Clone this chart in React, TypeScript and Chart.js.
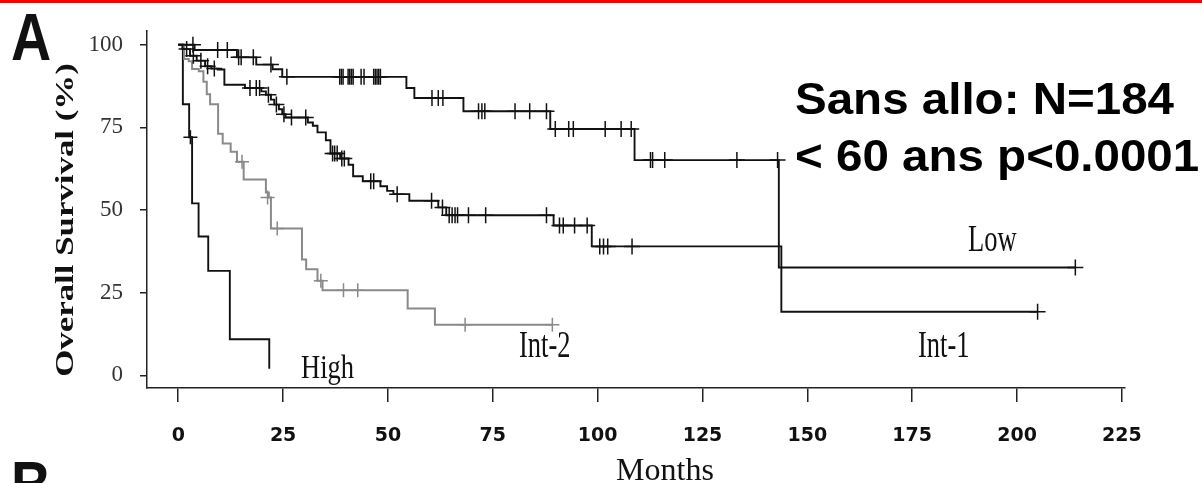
import React, { useEffect, useRef } from "react";
import { Chart, registerables } from "chart.js";

Chart.register(...registerables);

// ---- axis ticks ----
const X_TICKS = [0, 25, 50, 75, 100, 125, 150, 175, 200, 225];
const Y_TICKS = [0, 25, 50, 75, 100];

// ---- Kaplan-Meier steps: [month, survival % after the step] ----
const LOW_STEPS: [number, number][] = [
  [0, 100], [3.9, 98.4], [14.0, 96.2], [18.6, 94.0], [22.5, 92.6], [24.8, 90.3],
  [54.4, 86.9], [56.3, 83.9], [68.0, 79.9], [88.7, 74.5], [108.8, 65.1],
  [143.2, 32.6], [213.9, 32.6],
];
const LOW_CENSORED: [number, number][] = [
  [3.5, 100], [9.4, 98.4], [11.7, 98.4], [14.4, 96.2], [15.0, 96.2], [17.9, 96.2],
  [22.1, 94.0], [25.9, 90.3], [38.5, 90.3], [38.9, 90.3], [39.3, 90.3], [40.5, 90.3],
  [40.9, 90.3], [41.3, 90.3], [41.7, 90.3], [43.6, 90.3], [44.3, 90.3], [46.6, 90.3],
  [47.0, 90.3], [47.4, 90.3], [47.8, 90.3], [48.2, 90.3], [60.5, 83.9], [62.0, 83.9],
  [63.1, 83.9], [71.6, 79.9], [72.4, 79.9], [73.1, 79.9], [80.3, 79.9], [83.8, 79.9],
  [87.8, 79.9], [89.9, 74.5], [93.1, 74.5], [94.2, 74.5], [101.8, 74.5], [105.6, 74.5],
  [108.0, 74.5], [112.6, 65.1], [113.1, 65.1], [116.0, 65.1], [133.2, 65.1],
  [142.9, 65.1], [213.9, 32.6],
];

const INT1_STEPS: [number, number][] = [
  [0, 100], [1.0, 98.7], [2.8, 96.7], [4.4, 95.2], [6.4, 93.5], [7.9, 92.8], [9.4, 92.5],
  [11.0, 87.9], [15.9, 86.9], [19.8, 85.9], [20.9, 84.9], [22.1, 83.4], [22.9, 81.9],
  [24.0, 80.5], [24.8, 79.0], [25.6, 78.0], [30.9, 76.5], [32.1, 75.5], [33.2, 73.5],
  [35.2, 71.1], [36.3, 67.1], [38.6, 65.6], [40.6, 63.7], [41.7, 60.2], [44.0, 58.7],
  [48.2, 57.2], [49.8, 55.8], [51.3, 54.8], [55.1, 52.8], [62.0, 50.8], [63.9, 48.4],
  [89.5, 45.3], [98.6, 39.0], [143.8, 19.2], [204.9, 19.2],
];
const INT1_CENSORED: [number, number][] = [
  [2.0, 98.7], [3.6, 96.7], [5.4, 95.2], [7.0, 93.5], [8.6, 92.8], [17.1, 86.9],
  [18.6, 86.9], [19.4, 86.9], [21.5, 84.9], [23.4, 81.9], [25.2, 79.0], [27.0, 78.0],
  [30.4, 78.0], [36.8, 67.1], [37.3, 67.1], [37.9, 67.1], [39.0, 65.6], [39.6, 65.6],
  [45.9, 58.7], [46.6, 58.7], [52.2, 54.8], [60.4, 52.8], [63.0, 50.8], [64.6, 48.4],
  [65.3, 48.4], [66.0, 48.4], [66.6, 48.4], [69.2, 48.4], [73.3, 48.4], [87.8, 48.4],
  [90.9, 45.3], [91.8, 45.3], [94.5, 45.3], [97.5, 45.3], [100.5, 39.0], [101.4, 39.0],
  [102.4, 39.0], [108.2, 39.0], [204.9, 19.2],
];

const INT2_STEPS: [number, number][] = [
  [0, 100], [1.4, 95.7], [2.5, 95.0], [3.3, 92.7], [4.9, 92.0], [6.0, 88.8], [6.8, 85.0],
  [7.6, 82.0], [9.5, 73.1], [10.6, 70.1], [12.5, 67.6], [14.0, 64.6], [15.6, 59.2],
  [20.9, 55.3], [21.6, 53.8], [22.1, 44.4], [29.5, 35.0], [30.5, 32.1], [33.2, 28.6],
  [34.4, 25.7], [54.7, 20.2], [61.2, 15.3], [89.2, 15.3],
];
const INT2_CENSORED: [number, number][] = [
  [15.2, 64.6], [21.3, 53.8], [23.6, 44.4], [34.0, 28.6], [39.4, 25.7], [42.8, 25.7],
  [68.4, 15.3], [89.2, 15.3],
];

const HIGH_STEPS: [number, number][] = [
  [0, 100], [1.1, 82], [2.6, 72], [3.3, 52], [4.85, 42], [7.15, 31.6], [12.3, 10.9],
  [21.7, 2],
];
const HIGH_CENSORED: [number, number][] = [[2.9, 72]];

const SERIES = [
  { name: "Low", steps: LOW_STEPS, censored: LOW_CENSORED, color: "#111111", width: 1.9, mark: 8 },
  { name: "Int-1", steps: INT1_STEPS, censored: INT1_CENSORED, color: "#111111", width: 1.9, mark: 8 },
  { name: "Int-2", steps: INT2_STEPS, censored: INT2_CENSORED, color: "#8a8a8a", width: 2, mark: 7 },
  { name: "High", steps: HIGH_STEPS, censored: HIGH_CENSORED, color: "#111111", width: 1.9, mark: 7 },
];

const W = 1202;
const H = 483;

function drawText(
  ctx: CanvasRenderingContext2D,
  text: string,
  x: number,
  y: number,
  font: string,
  o: { sx?: number; sy?: number; rot?: number; align?: CanvasTextAlign; color?: string } = {}
) {
  ctx.save();
  ctx.translate(x, y);
  if (o.rot) ctx.rotate(o.rot);
  ctx.scale(o.sx ?? 1, o.sy ?? 1);
  ctx.font = font;
  ctx.fillStyle = o.color ?? "#111";
  ctx.textAlign = o.align ?? "left";
  ctx.textBaseline = "alphabetic";
  ctx.fillText(text, 0, 0);
  ctx.restore();
}

const decorPlugin = {
  id: "decor",
  beforeDraw(chart: any) {
    const ctx = chart.ctx as CanvasRenderingContext2D;
    ctx.save();
    ctx.fillStyle = "#ffffff";
    ctx.fillRect(0, 0, W, H);
    ctx.fillStyle = "#ff0000";
    ctx.fillRect(0, 0, W, 3);
    ctx.restore();
  },
  afterDraw(chart: any) {
    const ctx = chart.ctx as CanvasRenderingContext2D;
    const sansB = (s: number) => `bold ${s}px "Liberation Sans", Arial, sans-serif`;
    const serif = (s: number, b = false) =>
      `${b ? "bold " : ""}${s}px "Liberation Serif", "Times New Roman", serif`;
    // panel letters
    drawText(ctx, "A", 11, 60, sansB(67), { sx: 0.83 });
    drawText(ctx, "B", 11, 508, sansB(67), { sx: 0.83 });
    // y axis title
    drawText(ctx, "Overall Survival (%)", 73, 220, serif(26, true), {
      rot: -Math.PI / 2,
      sx: 1.34,
      align: "center",
    });
    // x axis title
    drawText(ctx, "Months", 665, 480, serif(32), { align: "center" });
    // curve labels
    drawText(ctx, "Low", 968, 251, serif(26.5), { sy: 1.4 });
    drawText(ctx, "Int-1", 918, 357, serif(26.5), { sy: 1.4 });
    drawText(ctx, "Int-2", 519, 357, serif(26.5), { sy: 1.4 });
    drawText(ctx, "High", 301, 377.5, serif(26.5), { sy: 1.3 });
    // annotation
    drawText(ctx, "Sans allo: N=184", 795, 113.5, sansB(44), { sx: 1.08, color: "#000" });
    drawText(ctx, "< 60 ans p<0.0001", 795, 171, sansB(44), { sx: 1.08, color: "#000" });
  },
};

export default function App() {
  const ref = useRef<HTMLCanvasElement>(null);

  useEffect(() => {
    document.body.style.margin = "0";
    const canvas = ref.current;
    if (!canvas) return;

    const datasets: any[] = [];
    SERIES.forEach((s) => {
      datasets.push({
        label: s.name,
        data: s.steps.map(([x, y]) => ({ x, y })),
        stepped: true,
        borderColor: s.color,
        borderWidth: s.width,
        pointRadius: 0,
        fill: false,
      });
      datasets.push({
        label: s.name + " censored",
        data: s.censored.map(([x, y]) => ({ x, y })),
        showLine: false,
        pointStyle: "cross",
        pointRadius: s.mark,
        pointBorderWidth: 1.5,
        pointBorderColor: s.color,
        borderColor: s.color,
      });
    });

    const chart = new Chart(canvas, {
      type: "line",
      data: { datasets },
      plugins: [decorPlugin],
      options: {
        animation: false,
        responsive: false,
        devicePixelRatio: 1,
        layout: { padding: { top: 23, right: 77, left: 0, bottom: 0 } },
        plugins: { legend: { display: false }, tooltip: { enabled: false } },
        scales: {
          x: {
            type: "linear",
            min: -7.45,
            max: 225.74,
            afterBuildTicks: (scale: any) => {
              scale.ticks = X_TICKS.map((v) => ({ value: v }));
            },
            afterFit: (scale: any) => {
              scale.height = 95;
            },
            ticks: {
              autoSkip: false,
              maxRotation: 0,
              padding: 23,
              color: "#111",
              font: { family: '"DejaVu Sans", sans-serif', size: 19, weight: "bold" },
              callback: (v: any) => String(v),
            },
            grid: {
              drawOnChartArea: false,
              drawTicks: true,
              tickLength: 14,
              color: "#222",
              lineWidth: 1.5,
            },
            border: { display: true, color: "#222", width: 1.5 },
          },
          y: {
            type: "linear",
            min: -3.85,
            max: 104.23,
            afterBuildTicks: (scale: any) => {
              scale.ticks = Y_TICKS.map((v) => ({ value: v }));
            },
            afterFit: (scale: any) => {
              scale.width = 147;
            },
            ticks: {
              autoSkip: false,
              padding: 17,
              color: "#333",
              font: { family: '"Liberation Serif", serif', size: 23 },
              callback: (v: any) => String(v),
            },
            grid: {
              drawOnChartArea: false,
              drawTicks: true,
              tickLength: 7,
              color: "#222",
              lineWidth: 1.5,
            },
            border: { display: true, color: "#222", width: 1.5 },
          },
        },
      } as any,
    });

    return () => chart.destroy();
  }, []);

  return (
    <div style={{ position: "fixed", left: 0, top: 0, width: W, height: H, background: "#fff" }}>
      <canvas ref={ref} width={W} height={H} style={{ display: "block", width: W, height: H }} />
    </div>
  );
}
